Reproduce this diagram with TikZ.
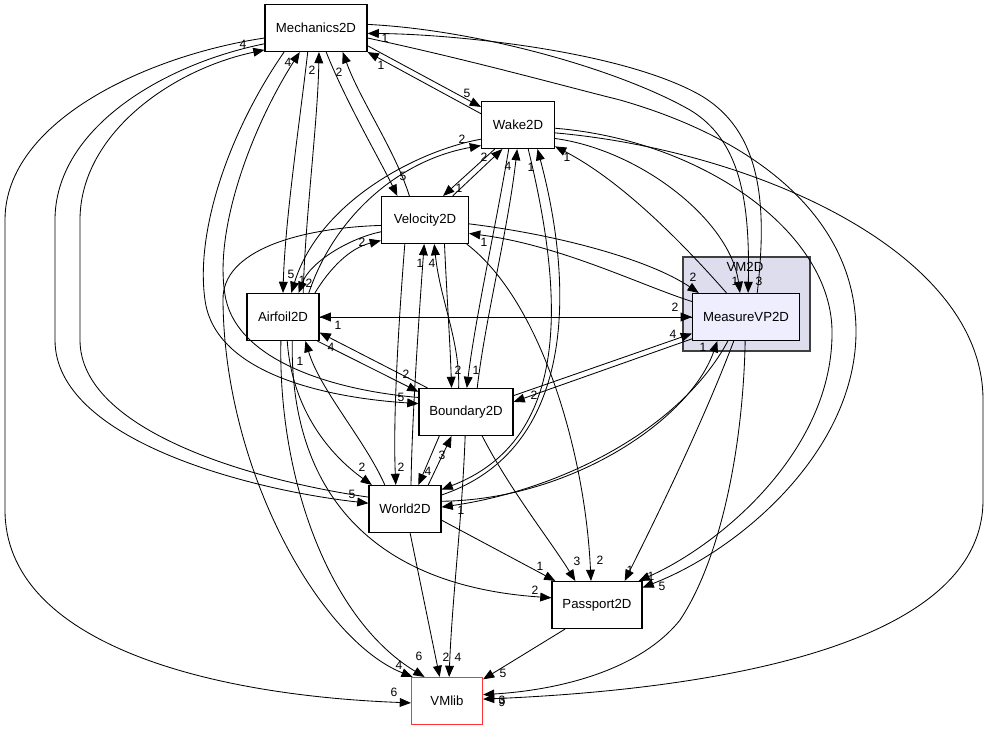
\documentclass[tikz,border=0pt]{standalone}
\usepackage{fontspec}
\setmainfont{Liberation Sans}
\usepackage{xcolor}
\definecolor{clusterBack}{HTML}{DDDDEE}
\definecolor{curBack}    {HTML}{EEEEFF}
\definecolor{libLine}    {HTML}{FF3333}
\usetikzlibrary{arrows.meta}
\tikzset{
    dirnode/.style={draw, line width=0.8pt, rectangle, fill=white,
                    minimum height=11.75mm, inner sep=2pt,
                    font=\fontsize{9.4}{11}\selectfont},
    dircur/.style={dirnode, fill=curBack},
    dirlib/.style={dirnode, draw=libLine},
    cluster/.style={draw=black!75, line width=0.9pt, fill=clusterBack},
}

\begin{document}
\begin{tikzpicture}[
    x=0.25mm, y=-0.25mm,
    dep/.style={-{Triangle[length=2.8mm, width=2.2mm]}, line width=0.6pt},
    cnt/.style={font=\fontsize{8.6}{9}\selectfont, inner sep=0pt},
]
\useasboundingbox (0,0) rectangle (987,731);

% --- VM2D cluster ---
\node[cluster, minimum width=31.75mm, minimum height=23.5mm] (vm2d) at (746.5,304) {};
\node[font=\fontsize{9.4}{11}\selectfont, inner sep=0pt] (vm2d-lbl) at (745,267) {VM2D};

% --- directories ---
\node[dirnode, minimum width=25.5mm]  (mech) at (316,28)  {Mechanics2D};
\node[dirnode, minimum width=18.25mm] (wake) at (518,125) {Wake2D};
\node[dirnode, minimum width=21.75mm] (vel)  at (425,220) {Velocity2D};
\node[dirnode, minimum width=18mm]    (air)  at (283,317) {Airfoil2D};
\node[dircur,  minimum width=26.75mm] (mvp)  at (746,317) {MeasureVP2D};
\node[dirnode, minimum width=23.5mm]  (bnd)  at (466,412) {Boundary2D};
\node[dirnode, minimum width=18mm]    (wld)  at (405,509) {World2D};
\node[dirnode, minimum width=22.5mm]  (psp)  at (597,605) {Passport2D};
\node[dirlib,  minimum width=17.75mm] (lib)  at (447,701) {VMlib};

% --- from Mechanics2D ---
\draw[dep] (mech.191) .. controls (150,55) and (5,120) .. (5,220) -- (5,510)
    .. controls (5,640) and (200,695) .. (lib.183) node[cnt, at={(394,692)}] {6};
\draw[dep] (mech.197) .. controls (160,65) and (55,130) .. (55,220) -- (55,340)
    .. controls (55,440) and (250,490) .. (wld.171) node[cnt, at={(352,494)}] {5};
\draw[dep] (mech.341) -- (wake.154) node[cnt, at={(467,93)}] {5};
\draw[dep] (mech.4) .. controls (480,30) and (620,70) .. (690,110)
    .. controls (740,140) and (750,200) .. (mvp.85) node[cnt, at={(759,281)}] {3};
\draw[dep] (mech.349) .. controls (470,60) and (560,85) .. (620,100)
    .. controls (760,140) and (855,220) .. (856,330)
    .. controls (857,450) and (740,550) .. (psp.21) node[cnt, at={(662,586)}] {5};
\draw[dep] (mech.293) .. controls (345,100) and (380,160) .. (vel.139) node[cnt, at={(403,176)}] {5};
\draw[dep] (mech.251) .. controls (300,120) and (285,220) .. (air.90) node[cnt, at={(291,274)}] {5};
\draw[dep] (mech.217) .. controls (230,130) and (195,230) .. (205,300)
    .. controls (215,375) and (330,398) .. (bnd.170) node[cnt, at={(401,397)}] {5};

% --- from Wake2D ---
\draw[dep] (wake.163) -- (mech.335) node[cnt, at={(381,65)}] {1};
\draw[dep] (wake.201) .. controls (420,150) and (320,200) .. (air.71) node[cnt, at={(302,280)}] {1};
\draw[dep] (wake.226) -- (vel.53) node[cnt, at={(459,188)}] {1};
\draw[dep] (wake.249) .. controls (495,230) and (475,320) .. (bnd.88) node[cnt, at={(476,370)}] {1};
\draw[dep] (wake.293) .. controls (565,300) and (570,440) .. (wld.28);
\draw[dep] (wake.340) .. controls (640,150) and (730,220) .. (mvp.104) node[cnt, at={(735,281)}] {1};
\draw[dep] (wake.355) .. controls (700,140) and (830,230) .. (832,330)
    .. controls (834,450) and (720,545) .. (psp.30) node[cnt, at={(651,576)}] {1};
\draw[dep] (wake.348) .. controls (750,150) and (983,250) .. (983,400) -- (983,500)
    .. controls (983,650) and (700,690) .. (lib.3) node[cnt, at={(502,702)}] {9};

% --- from Velocity2D ---
\draw[dep] (vel.123) .. controls (395,150) and (360,100) .. (mech.318) node[cnt, at={(339,72)}] {2};
\draw[dep] (vel.41) -- (wake.237) node[cnt, at={(484,157)}] {2};
\draw[dep] (vel.195) .. controls (350,238) and (310,262) .. (air.57) node[cnt, at={(309,283)}] {2};
\draw[dep] (vel.309) .. controls (447,300) and (450,340) .. (bnd.121) node[cnt, at={(458,370)}] {2};
\draw[dep] (vel.230) .. controls (398,330) and (393,420) .. (wld.111) node[cnt, at={(401,467)}] {2};
\draw[dep] (vel.355) .. controls (560,235) and (650,260) .. (mvp.153) node[cnt, at={(693,277)}] {2};
\draw[dep] (vel.330) .. controls (540,300) and (585,450) .. (psp.104) node[cnt, at={(600,560)}] {2};
\draw[dep] (vel.187) .. controls (300,228) and (222,250) .. (223,300)
    .. controls (224,470) and (320,640) .. (lib.145) node[cnt, at={(399,665)}] {4};

% --- from Airfoil2D ---
\draw[dep] (air.50) .. controls (305,220) and (318,120) .. (mech.277) node[cnt, at={(312,70)}] {2};
\draw[dep] (air.43) .. controls (335,215) and (400,160) .. (wake.209) node[cnt, at={(462,139)}] {2};
\draw[dep] (air.37) .. controls (330,268) and (350,248) .. (vel.205) node[cnt, at={(362,242)}] {2};
\draw[dep] (air.0) -- (mvp.180) node[cnt, at={(675,307)}] {2};
\draw[dep] (air.325) -- (bnd.157) node[cnt, at={(406,374)}] {2};
\draw[dep] (air.280) .. controls (292,410) and (330,455) .. (wld.144) node[cnt, at={(362,467)}] {2};
\draw[dep] (air.291) .. controls (290,480) and (360,585) .. (psp.171) node[cnt, at={(535,590)}] {2};
\draw[dep] (air.265) .. controls (278,480) and (330,620) .. (lib.133) node[cnt, at={(419,656)}] {6};

% --- from MeasureVP2D ---
\draw[dep] (mvp.65) .. controls (768,200) and (760,130) .. (700,95)
    .. controls (620,50) and (450,34) .. (mech.354) node[cnt, at={(385,38)}] {1};
\draw[dep] (mvp.129) .. controls (680,240) and (620,180) .. (wake.330) node[cnt, at={(567,157)}] {1};
\draw[dep] (mvp.164) .. controls (640,285) and (560,245) .. (vel.343) node[cnt, at={(484,242)}] {1};
\draw[dep] (mvp.180) -- (air.0) node[cnt, at={(338,325)}] {1};
\draw[dep] (mvp.202) -- (bnd.12) node[cnt, at={(534,395)}] {2};
\draw[dep] (mvp.233) .. controls (680,430) and (560,490) .. (wld.3) node[cnt, at={(461,510)}] {1};
\draw[dep] (mvp.243) .. controls (700,430) and (650,530) .. (psp.41) node[cnt, at={(630,570)}] {1};
\draw[dep] (mvp.268) .. controls (743,450) and (720,560) .. (680,620)
    .. controls (640,670) and (560,690) .. (lib.10) node[cnt, at={(502,700)}] {3};

% --- from Boundary2D ---
\draw[dep] (bnd.163) .. controls (330,390) and (240,360) .. (226,300)
    .. controls (212,235) and (250,130) .. (mech.236) node[cnt, at={(288,62)}] {4};
\draw[dep] (bnd.65) .. controls (485,320) and (508,230) .. (wake.268) node[cnt, at={(508,166)}] {4};
\draw[dep] (bnd.107) .. controls (460,340) and (440,300) .. (vel.291) node[cnt, at={(432,263)}] {4};
\draw[dep] (bnd.148) -- (air.337) node[cnt, at={(331,347)}] {4};
\draw[dep] (bnd.19) -- (mvp.197) node[cnt, at={(673,334)}] {4};
\draw[dep] (bnd.222) -- (wld.61) node[cnt, at={(428,471)}] {4};
\draw[dep] (bnd.304) .. controls (510,490) and (550,540) .. (psp.132) node[cnt, at={(577,561)}] {3};
\draw[dep] (bnd.268) .. controls (462,520) and (452,600) .. (lib.85) node[cnt, at={(458,657)}] {4};

% --- from World2D ---
\draw[dep] (wld.162) .. controls (250,480) and (80,430) .. (80,340) -- (80,220)
    .. controls (80,135) and (170,70) .. (mech.203) node[cnt, at={(243,44)}] {4};
\draw[dep] (wld.21) .. controls (575,450) and (575,290) .. (wake.309) node[cnt, at={(531,167)}] {1};
\draw[dep] (wld.76) .. controls (412,420) and (418,330) .. (vel.268) node[cnt, at={(420,263)}] {1};
\draw[dep] (wld.130) .. controls (365,440) and (320,390) .. (air.313) node[cnt, at={(300,361)}] {1};
\draw[dep] (wld.46) -- (bnd.239) node[cnt, at={(442,455)}] {3};
\draw[dep] (wld.12) .. controls (570,500) and (690,420) .. (mvp.220) node[cnt, at={(703,347)}] {1};
\draw[dep] (wld.343) -- (psp.150) node[cnt, at={(540,566)}] {1};
\draw[dep] (wld.282) -- (lib.107) node[cnt, at={(446,657)}] {2};

% --- from Passport2D ---
\draw[dep] (psp.217) -- (lib.31) node[cnt, at={(503,673)}] {5};
\end{tikzpicture}
\end{document}
